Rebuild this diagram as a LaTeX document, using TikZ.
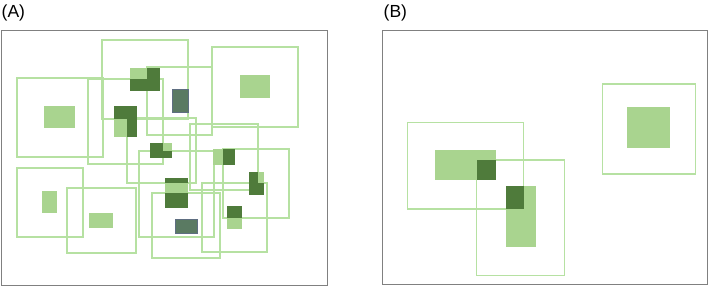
\documentclass[tikz,border=0pt]{standalone}
\usepackage{fontspec}
\setmainfont{Liberation Sans}
\definecolor{boxline}{HTML}{B6E1A2}
\definecolor{innerfill}{HTML}{A9D48F}
\definecolor{darkfill}{HTML}{4F7B3B}
\definecolor{tealfill}{HTML}{5A7A62}
\definecolor{framegray}{HTML}{808080}
\tikzset{
  outerbox/.style={draw=boxline, line width=1.3pt},
  innerbox/.style={fill=innerfill},
  overlap/.style={fill=darkfill},
  contained/.style={fill=tealfill, draw=tealfill!80!blue!60!gray, line width=0.4pt},
  panelframe/.style={draw=framegray, line width=0.9pt},
  panellabel/.style={anchor=base west, inner sep=0pt, font=\fontsize{17.5}{20}\selectfont}
}
\begin{document}
\begin{tikzpicture}[x=1pt,y=-1pt]
\useasboundingbox (0,0) rectangle (709,288);
% labels
\node[panellabel] (labA) at (1.5,18) {(A)};
\node[panellabel] (labB) at (383.5,18) {(B)};
% frames
\draw[panelframe] (1.5,30) rectangle (327,285);
\draw[panelframe] (382,30) rectangle (707,284.5);
% ---------- Panel A outer boxes
\draw[outerbox] (17,78) rectangle (103,157);   % L1
\draw[outerbox] (102,40) rectangle (188,119);  % T1
\draw[outerbox] (147,67) rectangle (212,135);  % T2
\draw[outerbox] (88,79) rectangle (163,164);   % M1
\draw[outerbox] (127,118) rectangle (196,183); % C1
\draw[outerbox] (139,151) rectangle (214,237); % D1
\draw[outerbox] (152,193) rectangle (220,258); % E1
\draw[outerbox] (190,124) rectangle (258,190); % Ba
\draw[outerbox] (223,149) rectangle (289,218); % F1
\draw[outerbox] (202,183) rectangle (267,252); % G1
\draw[outerbox] (17,168) rectangle (83,237);   % H1
\draw[outerbox] (67,188) rectangle (136,253);  % I1
\draw[outerbox] (212,47) rectangle (298,127);  % R1
% inner rectangles
\fill[innerbox] (44,106) rectangle (75,128);
\fill[innerbox] (130,68) rectangle (160,91);
\fill[innerbox] (114,106) rectangle (137,137);
\fill[innerbox] (150,143) rectangle (172,158);
\fill[innerbox] (165,178) rectangle (188,208);
\fill[innerbox] (213,149) rectangle (235,165);
\fill[innerbox] (249,172) rectangle (264,195);
\fill[innerbox] (227,206) rectangle (242,229);
\fill[innerbox] (42,191) rectangle (57,213);
\fill[innerbox] (89,213) rectangle (113,228);
\fill[innerbox] (240,75) rectangle (270,98);
% overlaps
\fill[overlap] (147,68) rectangle (160,91);
\fill[overlap] (130,79) rectangle (147,91);
\fill[overlap] (114,106) rectangle (137,119);
\fill[overlap] (127,119) rectangle (137,137);
\fill[overlap] (150,143) rectangle (163,158);
\fill[overlap] (163,151) rectangle (172,158);
\fill[overlap] (165,178) rectangle (188,183);
\fill[overlap] (165,193) rectangle (188,208);
\fill[overlap] (223,149) rectangle (235,165);
\fill[overlap] (249,172) rectangle (258,183);
\fill[overlap] (249,183) rectangle (264,195);
\fill[overlap] (227,206) rectangle (242,218);
% fully contained
\filldraw[contained] (172,89) rectangle (188,112);
\filldraw[contained] (175,219) rectangle (197,233);
% ---------- Panel B
\draw[outerbox] (407.5,122.5) rectangle (523.5,209);
\draw[outerbox] (476.5,160) rectangle (564.5,275.5);
\draw[outerbox] (602.5,84) rectangle (695.5,174);
\fill[innerbox] (434.5,150) rectangle (495.5,180.5);
\fill[innerbox] (505.5,186.5) rectangle (536,247.5);
\fill[innerbox] (626.5,107.5) rectangle (669.5,148.5);
\fill[overlap] (476.5,160) rectangle (495.5,180.5);
\fill[overlap] (505.5,186.5) rectangle (523.5,209);
\end{tikzpicture}
\end{document}
